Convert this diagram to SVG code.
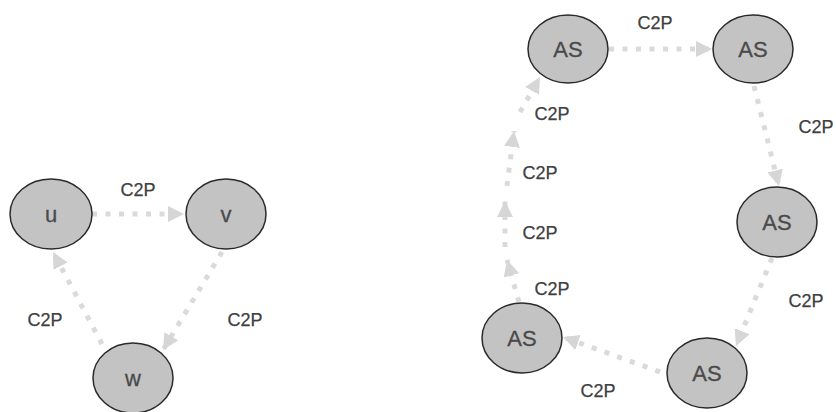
<svg xmlns="http://www.w3.org/2000/svg" width="836" height="412" viewBox="0 0 836 412">
<style>
.node ellipse{fill:#c3c3c3;stroke:#2a2a2a;stroke-width:1.5}
.node text{font-family:"Liberation Sans",Arial,sans-serif;font-size:22px;fill:#4a4a4a;stroke:#4a4a4a;stroke-width:0.3;text-anchor:middle}
.edge{fill:none;stroke:#dadada;stroke-width:5;stroke-dasharray:5 8.5;marker-end:url(#arr)}
.lbl{font-family:"Liberation Sans",Arial,sans-serif;font-size:18px;fill:#404040;stroke:#404040;stroke-width:0.25;text-anchor:middle}
</style>
<defs>
<marker id="arr" viewBox="0 0 16 16" refX="16" refY="8" markerWidth="16" markerHeight="16" markerUnits="userSpaceOnUse" orient="auto">
<path d="M0,0 L16,8 L0,16 z" fill="#d6d6d6"/>
</marker>
</defs>
<rect width="836" height="412" fill="#fff"/>
<g id="connectors">
<path class="edge" d="M92,214 L184,214"/>
<path class="edge" d="M222,252 L163,350"/>
<path class="edge" d="M102,344 L53,252"/>
<path class="edge" d="M609,49 L712,49"/>
<path class="edge" d="M754,86 L779,186"/>
<path class="edge" d="M772,258 L736,346"/>
<path class="edge" d="M660,372 L563,337"/>
<path class="edge" d="M519,302 L507,260"/>
<path class="edge" d="M505,247 L505,201"/>
<path class="edge" d="M507,186 L514,131"/>
<path class="edge" d="M520,112 L540,77"/>
</g>
<g id="labels">
<text class="lbl" x="138" y="196">C2P</text>
<text class="lbl" x="45" y="326">C2P</text>
<text class="lbl" x="245" y="326">C2P</text>
<text class="lbl" x="655" y="29">C2P</text>
<text class="lbl" x="552" y="120">C2P</text>
<text class="lbl" x="540" y="179">C2P</text>
<text class="lbl" x="540" y="239">C2P</text>
<text class="lbl" x="552" y="295">C2P</text>
<text class="lbl" x="816" y="133">C2P</text>
<text class="lbl" x="806" y="307">C2P</text>
<text class="lbl" x="598" y="397">C2P</text>
</g>
<g id="node-u" class="node"><ellipse cx="51" cy="214" rx="41" ry="35"/><text x="51" y="222">u</text></g>
<g id="node-v" class="node"><ellipse cx="226" cy="214" rx="40" ry="35"/><text x="226" y="222">v</text></g>
<g id="node-w" class="node"><ellipse cx="133" cy="378" rx="40" ry="35"/><text x="133" y="386">w</text></g>
<g id="node-as1" class="node"><ellipse cx="568" cy="49" rx="40" ry="34"/><text x="568" y="57">AS</text></g>
<g id="node-as2" class="node"><ellipse cx="753" cy="49" rx="40" ry="34"/><text x="753" y="57">AS</text></g>
<g id="node-as3" class="node"><ellipse cx="777" cy="222" rx="40" ry="35"/><text x="777" y="230">AS</text></g>
<g id="node-as4" class="node"><ellipse cx="707" cy="373" rx="40" ry="35"/><text x="707" y="381">AS</text></g>
<g id="node-as5" class="node"><ellipse cx="522" cy="338" rx="40" ry="35"/><text x="522" y="346">AS</text></g>
</svg>
